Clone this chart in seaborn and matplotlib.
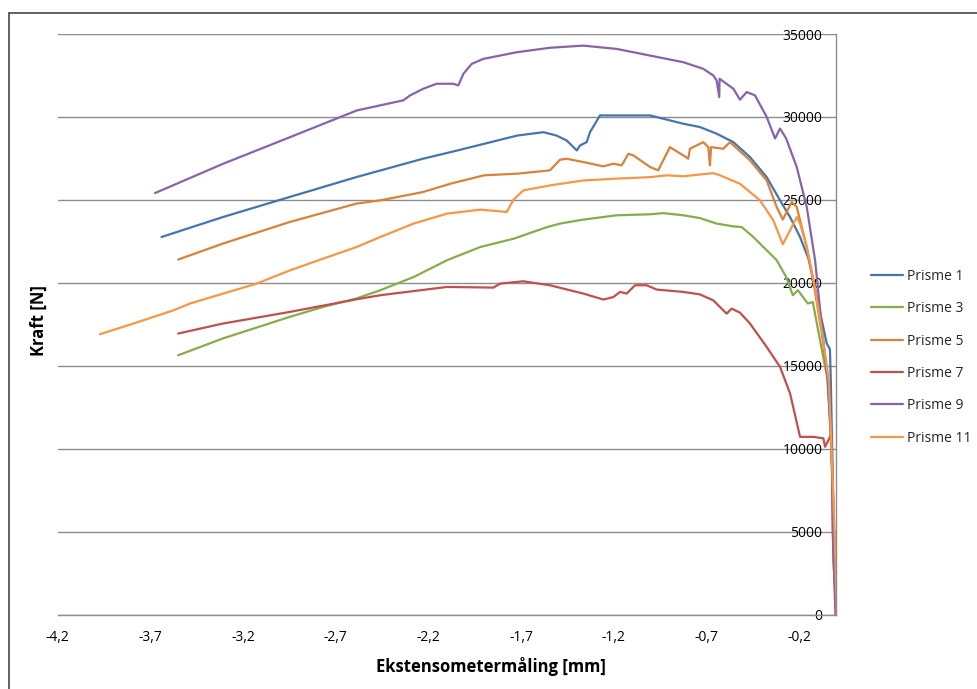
import numpy as np
import pandas as pd
import matplotlib
matplotlib.use("Agg")
import matplotlib.pyplot as plt
from matplotlib.lines import Line2D
import seaborn as sns

# ---------------- data ----------------
series_names = ["Prisme 1", "Prisme 3", "Prisme 5", "Prisme 7", "Prisme 9", "Prisme 11"]

x1 = [-3.64, -3.31, -2.95, -2.59, -2.23, -2.08, -1.90, -1.72, -1.58, -1.51, -1.455, -1.40, -1.383,
      -1.347, -1.329, -1.275, -1.095, -1.005, -0.826, -0.736, -0.646, -0.556, -0.466, -0.376, -0.304,
      -0.250, -0.196, -0.151, -0.124, -0.08, -0.052, -0.045, -0.035, -0.03, -0.016, -0.007, 0.0]
y1 = [22760, 23960, 25170, 26370, 27480, 27880, 28380, 28880, 29080, 28880, 28580, 27980, 28280,
      28480, 29080, 30090, 30090, 30090, 29590, 29390, 28990, 28480, 27580, 26370, 24970,
      23960, 22760, 21460, 20150, 17800, 16340, 16200, 16000, 14000, 6100, 2980, 0]

x3 = [-3.55, -3.31, -2.95, -2.77, -2.59, -2.46, -2.28, -2.10, -1.92, -1.74, -1.56, -1.49, -1.365,
      -1.185, -1.005, -0.933, -0.826, -0.736, -0.646, -0.556, -0.511, -0.448, -0.376, -0.322, -0.271,
      -0.235, -0.208, -0.154, -0.127, -0.092, -0.047, -0.03, -0.015, 0.0]
y3 = [15630, 16640, 17940, 18540, 19050, 19550, 20350, 21360, 22160, 22660, 23360, 23570, 23810,
      24070, 24130, 24200, 24070, 23900, 23570, 23400, 23360, 22760, 21960, 21360, 20350,
      19250, 19550, 18750, 18840, 16740, 14130, 11000, 5000, 0]

x5 = [-3.55, -3.31, -2.95, -2.59, -2.46, -2.23, -2.08, -1.90, -1.72, -1.545, -1.491, -1.455, -1.365,
      -1.257, -1.203, -1.158, -1.122, -1.095, -1.005, -0.961, -0.898, -0.826, -0.799, -0.790, -0.718,
      -0.691, -0.682, -0.676, -0.610, -0.574, -0.466, -0.376, -0.322, -0.289, -0.241, -0.214, -0.160,
      -0.12, -0.08, -0.045, -0.02, 0.0]
y5 = [21400, 22360, 23660, 24770, 24970, 25470, 25980, 26480, 26580, 26780, 27420, 27480, 27280,
      27020, 27180, 27080, 27780, 27680, 26980, 26780, 28180, 27680, 27480, 28080, 28480,
      28180, 27080, 28180, 28080, 28480, 27380, 26170, 24570, 23810, 24870, 24570, 22160,
      19800, 17000, 14200, 8000, 0]

x7 = [-3.55, -3.31, -2.95, -2.59, -2.46, -2.10, -1.85, -1.814, -1.689, -1.545, -1.365, -1.257, -1.203,
      -1.167, -1.131, -1.086, -1.023, -0.969, -0.826, -0.736, -0.664, -0.592, -0.565, -0.520, -0.466,
      -0.376, -0.304, -0.250, -0.196, -0.124, -0.070, -0.061, -0.025, -0.02, -0.005]
y7 = [16940, 17540, 18240, 19000, 19250, 19750, 19710, 19950, 20090, 19850, 19350, 18990, 19140,
      19450, 19350, 19850, 19850, 19590, 19450, 19300, 18940, 18140, 18440, 18200, 17540,
      16130, 14930, 13330, 10710, 10710, 10620, 10110, 10920, 5000, 0]

x9 = [-3.675, -3.307, -2.947, -2.587, -2.336, -2.299, -2.228, -2.156, -2.066, -2.039, -2.012, -1.967,
      -1.904, -1.724, -1.545, -1.365, -1.185, -1.005, -0.826, -0.718, -0.664, -0.646, -0.632, -0.630,
      -0.556, -0.520, -0.484, -0.439, -0.376, -0.331, -0.304, -0.271, -0.214, -0.160, -0.115, -0.08,
      -0.05, -0.025, -0.016, 0.0]
y9 = [25410, 27180, 28780, 30390, 31000, 31300, 31700, 32000, 32000, 31900, 32600, 33200,
      33500, 33900, 34170, 34300, 34100, 33700, 33300, 32900, 32500, 32200, 31200, 32300,
      31700, 31040, 31500, 31300, 30000, 28700, 29300, 28700, 26980, 24570, 21360, 17500,
      14500, 10000, 3280, 0]

x11 = [-3.972, -3.792, -3.576, -3.486, -3.307, -3.127, -2.947, -2.767, -2.587, -2.46, -2.28, -2.10,
       -1.92, -1.778, -1.742, -1.689, -1.545, -1.365, -1.185, -1.005, -0.915, -0.826, -0.736, -0.664,
       -0.628, -0.520, -0.412, -0.340, -0.289, -0.250, -0.214, -0.196, -0.160, -0.12, -0.08, -0.04,
       -0.01, 0.003]
y11 = [16900, 17540, 18340, 18750, 19350, 19950, 20750, 21460, 22160, 22760, 23570, 24170,
       24410, 24270, 25000, 25570, 25870, 26170, 26280, 26370, 26480, 26420, 26530, 26610,
       26480, 25970, 24970, 23760, 22320, 23160, 23960, 23570, 22160, 20000, 17200, 14000,
       5000, 0]

x_ticks = [-4.2, -3.7, -3.2, -2.7, -2.2, -1.7, -1.2, -0.7, -0.2]
x_tick_labels = ["-4,2", "-3,7", "-3,2", "-2,7", "-2,2", "-1,7", "-1,2", "-0,7", "-0,2"]
y_ticks = [0, 5000, 10000, 15000, 20000, 25000, 30000, 35000]
y_tick_labels = ["0", "5000", "10000", "15000", "20000", "25000", "30000", "35000"]

x_label = "Ekstensometermåling [mm]"
y_label = "Kraft [N]"

colors = ["#4674AE", "#86AC4B", "#D8823A", "#C0504D", "#8764A8", "#F79646"]

# ---------------- build long table ----------------
xs_all = [x1, x3, x5, x7, x9, x11]
ys_all = [y1, y3, y5, y7, y9, y11]
frames = []
for name, xs, ys in zip(series_names, xs_all, ys_all):
    frames.append(pd.DataFrame({"x": xs, "y": ys, "serie": name}))
df = pd.concat(frames, ignore_index=True)

# ---------------- plot ----------------
sns.set_theme(style="white")
plt.rcParams["font.family"] = ["Open Sans", "DejaVu Sans"]

W, H = 978, 689
fig = plt.figure(figsize=(W / 100, H / 100), dpi=100)
left, right = 57.7 / W, 836.4 / W
bottom, top = 1 - 614.5 / H, 1 - 34.0 / H
ax = fig.add_axes([left, bottom, right - left, top - bottom])

sns.lineplot(data=df, x="x", y="y", hue="serie", hue_order=series_names,
             palette=dict(zip(series_names, colors)), sort=False, estimator=None,
             linewidth=1.6, ax=ax)

ax.set_xlim(-4.2, 0)
ax.set_ylim(0, 35000)
ax.set_xticks(x_ticks)
ax.set_xticklabels(x_tick_labels)
ax.set_yticks(y_ticks)
ax.set_yticklabels(y_tick_labels)
ax.set_xlabel("")
ax.set_ylabel("")

grid_col = "#8c8c8c"
ax.yaxis.grid(True, color=grid_col, linewidth=1.0)
ax.xaxis.grid(False)
ax.set_axisbelow(True)

ax.spines["top"].set_visible(False)
ax.spines["right"].set_visible(False)
ax.spines["left"].set_position(("data", 0))
for s in ("left", "bottom"):
    ax.spines[s].set_color(grid_col)
    ax.spines[s].set_linewidth(1.0)

ax.tick_params(axis="x", direction="out", length=4, width=1, color=grid_col,
               pad=7, labelsize=10, labelcolor="#000000")
ax.tick_params(axis="y", direction="out", length=4, width=1, color=grid_col,
               pad=6, labelsize=10, labelcolor="#000000")

fig.text(491 / W, 1 - 667 / H, x_label, ha="center", va="center",
         fontsize=12, fontweight="bold", color="#000000")
fig.text(39 / W, 1 - 321 / H, y_label, ha="center", va="center", rotation=90,
         fontsize=12, fontweight="bold", color="#000000")

handles, labels = ax.get_legend_handles_labels()
if ax.get_legend() is not None:
    ax.get_legend().remove()
leg = ax.legend(handles, labels, loc="center left",
                bbox_to_anchor=(865.4 / W, 1 - 357.3 / H), bbox_transform=fig.transFigure,
                frameon=False, fontsize=10, handlelength=2.3, handletextpad=0.3,
                labelspacing=1.25, borderaxespad=0)
for h in leg.get_lines():
    h.set_linewidth(1.6)

# outer frame of the chart object
fc = "#555555"
fig.add_artist(Line2D([8.5 / W, 8.5 / W], [0, 1 - 12.5 / H], transform=fig.transFigure,
                      color=fc, linewidth=1.3))
fig.add_artist(Line2D([8.5 / W, 1], [1 - 12.5 / H, 1 - 12.5 / H], transform=fig.transFigure,
                      color=fc, linewidth=1.3))

fig.savefig("out.png", dpi=100)
